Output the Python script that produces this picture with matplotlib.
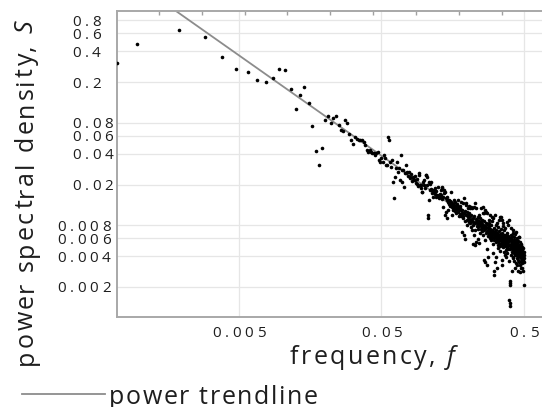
import numpy as np
import matplotlib
matplotlib.use("Agg")
import matplotlib.pyplot as plt
from matplotlib import font_manager
from matplotlib.ft2font import FT2Font
from matplotlib.lines import Line2D
from matplotlib.ticker import FixedLocator, NullLocator

# periodogram: low frequencies point by point
freq_low = [0.0007, 0.00096, 0.0019, 0.0029, 0.0038, 0.0048, 0.0058, 0.0067, 0.0077, 0.0086,
            0.0096, 0.0106, 0.0115, 0.0125, 0.0134, 0.0144, 0.0154, 0.0163, 0.0173, 0.0182,
            0.0192, 0.0202, 0.0211, 0.0221, 0.0230, 0.0240, 0.0250, 0.0259, 0.0269, 0.0278,
            0.0288, 0.0298, 0.0307, 0.0317, 0.0326, 0.0336, 0.0346, 0.0355, 0.0365, 0.0374,
            0.0384, 0.0394, 0.0403, 0.0413, 0.0422, 0.0432, 0.0442, 0.0451, 0.0461, 0.0470,
            0.0480, 0.0490, 0.0499, 0.0509, 0.0518, 0.0528, 0.0538, 0.0547, 0.0557, 0.0566,
            0.0576, 0.0586, 0.0595, 0.0605, 0.0614, 0.0624, 0.0634, 0.0643, 0.0653, 0.0662,
            0.0672, 0.0682, 0.0691, 0.0701, 0.0710, 0.0720, 0.0730, 0.0739, 0.0749, 0.0758,
            0.0768, 0.0778, 0.0787, 0.0797, 0.0806, 0.0816, 0.0826, 0.0835, 0.0845, 0.0854,
            0.0864, 0.0874, 0.0883, 0.0893, 0.0902, 0.0912, 0.0922, 0.0931, 0.0941, 0.0950,
            0.0960]
psd_low = [0.31, 0.47, 0.65, 0.55, 0.35, 0.27, 0.25, 0.21, 0.20, 0.22,
           0.27, 0.26, 0.17, 0.11, 0.15, 0.18, 0.125, 0.074, 0.043, 0.031,
           0.046, 0.086, 0.094, 0.080, 0.090, 0.093, 0.076, 0.068, 0.067, 0.085,
           0.080, 0.063, 0.054, 0.050, 0.058, 0.056, 0.055, 0.054, 0.055, 0.052,
           0.0486, 0.0434, 0.0418, 0.0434, 0.0418, 0.0403, 0.041, 0.0388, 0.0403, 0.0418,
           0.035, 0.0334, 0.036, 0.0334, 0.039, 0.036, 0.031, 0.031, 0.0585, 0.055,
           0.0334, 0.0299, 0.0347, 0.0213, 0.0147, 0.0238, 0.0288, 0.033, 0.0267, 0.0288,
           0.0221, 0.0388, 0.0277, 0.021, 0.0277, 0.019, 0.026, 0.031, 0.0257, 0.0265,
           0.024, 0.0267, 0.0238, 0.023, 0.0255, 0.0215, 0.0238, 0.023, 0.0221, 0.024,
           0.0221, 0.0208, 0.0225, 0.0204, 0.0195, 0.0248, 0.0257, 0.0198, 0.0198, 0.0184,
           0.017]

# dense part of the cloud (estimated, one value per frequency)
freq_high = [0.097, 0.098, 0.099, 0.100, 0.101, 0.102, 0.103, 0.104, 0.105, 0.106,
             0.107, 0.108, 0.109, 0.110, 0.111, 0.112, 0.113, 0.114, 0.115, 0.116,
             0.117, 0.118, 0.119, 0.120, 0.121, 0.122, 0.123, 0.124, 0.125, 0.126,
             0.127, 0.128, 0.129, 0.130, 0.131, 0.132, 0.133, 0.134, 0.135, 0.136,
             0.137, 0.138, 0.139, 0.140, 0.141, 0.142, 0.143, 0.144, 0.145, 0.146,
             0.147, 0.148, 0.149, 0.150, 0.151, 0.152, 0.153, 0.154, 0.155, 0.156,
             0.157, 0.158, 0.159, 0.160, 0.161, 0.162, 0.163, 0.164, 0.165, 0.166,
             0.167, 0.168, 0.169, 0.170, 0.171, 0.172, 0.173, 0.174, 0.175, 0.176,
             0.177, 0.178, 0.179, 0.180, 0.181, 0.182, 0.183, 0.184, 0.185, 0.186,
             0.187, 0.188, 0.189, 0.190, 0.191, 0.192, 0.193, 0.194, 0.195, 0.196,
             0.197, 0.198, 0.199, 0.200, 0.201, 0.202, 0.203, 0.204, 0.205, 0.206,
             0.207, 0.208, 0.209, 0.210, 0.211, 0.212, 0.213, 0.214, 0.215, 0.216,
             0.217, 0.218, 0.219, 0.220, 0.221, 0.222, 0.223, 0.224, 0.225, 0.226,
             0.227, 0.228, 0.229, 0.230, 0.231, 0.232, 0.233, 0.234, 0.235, 0.236,
             0.237, 0.238, 0.239, 0.240, 0.241, 0.242, 0.243, 0.244, 0.245, 0.246,
             0.247, 0.248, 0.249, 0.250, 0.251, 0.252, 0.253, 0.254, 0.255, 0.256,
             0.257, 0.258, 0.259, 0.260, 0.261, 0.262, 0.263, 0.264, 0.265, 0.266,
             0.267, 0.268, 0.269, 0.270, 0.271, 0.272, 0.273, 0.274, 0.275, 0.276,
             0.277, 0.278, 0.279, 0.280, 0.281, 0.282, 0.283, 0.284, 0.285, 0.286,
             0.287, 0.288, 0.289, 0.290, 0.291, 0.292, 0.293, 0.294, 0.295, 0.296,
             0.297, 0.298, 0.299, 0.300, 0.301, 0.302, 0.303, 0.304, 0.305, 0.306,
             0.307, 0.308, 0.309, 0.310, 0.311, 0.312, 0.313, 0.314, 0.315, 0.316,
             0.317, 0.318, 0.319, 0.320, 0.321, 0.322, 0.323, 0.324, 0.325, 0.326,
             0.327, 0.328, 0.329, 0.330, 0.331, 0.332, 0.333, 0.334, 0.335, 0.336,
             0.337, 0.338, 0.339, 0.340, 0.341, 0.342, 0.343, 0.344, 0.345, 0.346,
             0.347, 0.348, 0.349, 0.350, 0.351, 0.352, 0.353, 0.354, 0.355, 0.356,
             0.357, 0.358, 0.359, 0.360, 0.361, 0.362, 0.363, 0.364, 0.365, 0.366,
             0.367, 0.368, 0.369, 0.370, 0.371, 0.372, 0.373, 0.374, 0.375, 0.376,
             0.377, 0.378, 0.379, 0.380, 0.381, 0.382, 0.383, 0.384, 0.385, 0.386,
             0.387, 0.388, 0.389, 0.390, 0.391, 0.392, 0.393, 0.394, 0.395, 0.396,
             0.397, 0.398, 0.399, 0.400, 0.401, 0.402, 0.403, 0.404, 0.405, 0.406,
             0.407, 0.408, 0.409, 0.410, 0.411, 0.412, 0.413, 0.414, 0.415, 0.416,
             0.417, 0.418, 0.419, 0.420, 0.421, 0.422, 0.423, 0.424, 0.425, 0.426,
             0.427, 0.428, 0.429, 0.430, 0.431, 0.432, 0.433, 0.434, 0.435, 0.436,
             0.437, 0.438, 0.439, 0.440, 0.441, 0.442, 0.443, 0.444, 0.445, 0.446,
             0.447, 0.448, 0.449, 0.450, 0.451, 0.452, 0.453, 0.454, 0.455, 0.456,
             0.457, 0.458, 0.459, 0.460, 0.461, 0.462, 0.463, 0.464, 0.465, 0.466,
             0.467, 0.468, 0.469, 0.470, 0.471, 0.472, 0.473, 0.474, 0.475, 0.476,
             0.477, 0.478, 0.479, 0.480, 0.481, 0.482, 0.483, 0.484, 0.485, 0.486,
             0.487, 0.488, 0.489, 0.490, 0.491, 0.492, 0.493, 0.494, 0.495, 0.496,
             0.497, 0.498, 0.499, 0.500, 0.1065]
psd_high = [0.017, 0.021, 0.0198, 0.022, 0.0185, 0.0248, 0.025, 0.0238, 0.0198, 0.0101,
            0.0211, 0.0141, 0.0205, 0.0177, 0.0183, 0.021, 0.0165, 0.0177, 0.0152, 0.0177,
            0.0170, 0.0163, 0.0187, 0.0175, 0.0150, 0.0154, 0.0160, 0.0154, 0.0188, 0.0158,
            0.0147, 0.0163, 0.0152, 0.0178, 0.0158, 0.0145, 0.0184, 0.0190, 0.0152, 0.0122,
            0.0177, 0.0164, 0.0101, 0.0170, 0.0147, 0.0109, 0.0094, 0.0141, 0.0150, 0.0136,
            0.0113, 0.0140, 0.0128, 0.0131, 0.0125, 0.0138, 0.0170, 0.0136, 0.0101, 0.0122,
            0.0129, 0.0113, 0.0126, 0.0118, 0.0140, 0.0131, 0.0110, 0.0124, 0.0135, 0.0105,
            0.0122, 0.0116, 0.0130, 0.0126, 0.0108, 0.0141, 0.0112, 0.0120, 0.0098, 0.0115,
            0.0124, 0.0117, 0.0104, 0.0112, 0.0099, 0.0136, 0.0105, 0.0069, 0.0113, 0.0098,
            0.0131, 0.0094, 0.0064, 0.0147, 0.0106, 0.0059, 0.0110, 0.0088, 0.0126, 0.0100,
            0.0131, 0.0090, 0.0108, 0.0081, 0.0117, 0.0096, 0.0102, 0.0125, 0.0092, 0.0087,
            0.0106, 0.0119, 0.0084, 0.0098, 0.0122, 0.0089, 0.0077, 0.0101, 0.0093, 0.0072,
            0.0117, 0.0087, 0.0053, 0.0094, 0.0081, 0.0122, 0.0064, 0.0098, 0.0085, 0.0051,
            0.0131, 0.0072, 0.0087, 0.0055, 0.0093, 0.0117, 0.0079, 0.0086, 0.0090, 0.0059,
            0.0096, 0.0074, 0.0083, 0.0100, 0.0078, 0.0054, 0.0089, 0.0081, 0.0068, 0.0084,
            0.0095, 0.0073, 0.0087, 0.0080, 0.0117, 0.0077, 0.0070, 0.0090, 0.0083, 0.0064,
            0.0105, 0.0081, 0.0122, 0.0075, 0.0088, 0.0037, 0.0105, 0.0072, 0.0113, 0.0058,
            0.0079, 0.0035, 0.0085, 0.0109, 0.0075, 0.0068, 0.0047, 0.0082, 0.0071, 0.0033,
            0.0105, 0.0069, 0.0077, 0.0039, 0.0063, 0.0084, 0.0073, 0.0066, 0.0078, 0.0091,
            0.0060, 0.0070, 0.0101, 0.0064, 0.0074, 0.0062, 0.0081, 0.0068, 0.0057, 0.0072,
            0.0088, 0.0065, 0.0060, 0.0097, 0.0067, 0.0094, 0.0053, 0.0071, 0.0043, 0.0062,
            0.0029, 0.0075, 0.0058, 0.0026, 0.0069, 0.0063, 0.0101, 0.0035, 0.0066, 0.0080,
            0.0055, 0.0060, 0.0072, 0.0039, 0.0064, 0.0031, 0.0085, 0.0058, 0.0068, 0.0052,
            0.0062, 0.0077, 0.0056, 0.0065, 0.0048, 0.0060, 0.0090, 0.0054, 0.0070, 0.0061,
            0.0045, 0.0066, 0.0097, 0.0057, 0.0063, 0.0050, 0.0074, 0.0059, 0.0097, 0.0053,
            0.0064, 0.0090, 0.0037, 0.0055, 0.0061, 0.0033, 0.0068, 0.0052, 0.0058, 0.0079,
            0.0084, 0.0049, 0.0056, 0.0065, 0.0044, 0.0060, 0.0053, 0.0072, 0.0057, 0.0041,
            0.0062, 0.0054, 0.0076, 0.0050, 0.0059, 0.0046, 0.0065, 0.0055, 0.0039, 0.0061,
            0.0087, 0.0052, 0.0057, 0.0048, 0.0068, 0.0053, 0.0043, 0.0058, 0.0063, 0.0050,
            0.0081, 0.0055, 0.0047, 0.0060, 0.0052, 0.0036, 0.0056, 0.0015, 0.0090, 0.0014,
            0.0023, 0.0021, 0.0022, 0.0013, 0.0058, 0.0047, 0.0064, 0.0053, 0.0041, 0.0060,
            0.0049, 0.0075, 0.0055, 0.0029, 0.0051, 0.0063, 0.0044, 0.0057, 0.0048, 0.0068,
            0.0038, 0.0053, 0.0046, 0.0072, 0.0050, 0.0039, 0.0058, 0.0043, 0.0055, 0.0047,
            0.0062, 0.0036, 0.0051, 0.0031, 0.0056, 0.0045, 0.0066, 0.0049, 0.0041, 0.0053,
            0.0058, 0.0034, 0.0047, 0.0069, 0.0044, 0.0052, 0.0038, 0.0049, 0.0060, 0.0044,
            0.0041, 0.0054, 0.0033, 0.0047, 0.0050, 0.0037, 0.0056, 0.0043, 0.0029, 0.0048,
            0.0040, 0.0061, 0.0045, 0.0035, 0.0052, 0.0042, 0.0047, 0.0061, 0.0039, 0.0044,
            0.0033, 0.0049, 0.0055, 0.0028, 0.0046, 0.0041, 0.0051, 0.0036, 0.0044, 0.0053,
            0.0040, 0.0031, 0.0047, 0.0038, 0.0043, 0.0031, 0.0049, 0.0035, 0.0042, 0.0039,
            0.0046, 0.0034, 0.0044, 0.0037, 0.0041, 0.0048, 0.0036, 0.0043, 0.0029, 0.0044,
            0.0038, 0.0041, 0.0035, 0.0021, 0.0094]

# power trendline S = a * f**b
trend_a = 0.00203
trend_b = -0.98

x_ticks = [0.005, 0.05, 0.5]
x_tick_labels = ["0.005", "0.05", "0.5"]
y_ticks = [0.8, 0.6, 0.4, 0.2, 0.08, 0.06, 0.04, 0.02, 0.008, 0.006, 0.004, 0.002]
y_tick_labels = ["0.8", "0.6", "0.4", "0.2", "0.08", "0.06", "0.04", "0.02",
                 "0.008", "0.006", "0.004", "0.002"]
top_ticks = [0.00137, 0.00273, 0.00547, 0.0109, 0.0219, 0.0438, 0.0875, 0.175, 0.35]

W, H, DPI = 542, 407, 100
FONT = "Open Sans"
INK = "#1e1e1e"
GREY = "#8c8c8c"


def advances(s, size, style="normal"):
    path = font_manager.findfont(font_manager.FontProperties(family=FONT, style=style))
    ft = FT2Font(path, hinting_factor=1)
    ft.set_size(size, DPI)
    return [ft.load_char(ord(c)).linearHoriAdvance / 65536 for c in s]


def spaced(fig, x, y, s, size, track, style="normal", rotation=0, color=INK):
    # no letter-spacing in matplotlib, so place the characters one at a time
    for c, adv in zip(s, advances(s, size, style)):
        fig.text(x / W, y / H, c, fontsize=size, family=FONT, style=style, color=color,
                 rotation=rotation, rotation_mode="anchor", ha="left", va="baseline")
        if rotation == 90:
            y += adv + track
        else:
            x += adv + track
    return x, y


def spaced_width(s, size, track):
    return sum(advances(s, size)) + track * (len(s) - 1)


fig = plt.figure(figsize=(W / DPI, H / DPI), dpi=DPI)
ax = fig.add_axes([117 / W, 90 / H, 428 / W, 306 / H])
ax.set_xscale("log")
ax.set_yscale("log")
ax.set_xlim(0.000697, 0.702)
ax.set_ylim(0.00102, 0.99)

freq = np.array(freq_low + freq_high)
psd = np.array(psd_low + psd_high)
ax.plot(freq, psd, "o", ms=2.6, color="black", mec="none", zorder=3)

f_line = np.array([freq.min(), freq.max()])
ax.plot(f_line, trend_a * f_line ** trend_b, color=GREY, lw=1.3, zorder=2)

ax.xaxis.set_major_locator(FixedLocator(x_ticks))
ax.yaxis.set_major_locator(FixedLocator(y_ticks))
ax.xaxis.set_minor_locator(FixedLocator(top_ticks))
ax.yaxis.set_minor_locator(NullLocator())
ax.tick_params(which="both", labelbottom=False, labelleft=False, labeltop=False)
ax.tick_params(which="major", length=0)
ax.tick_params(which="minor", bottom=False, top=True, direction="in",
               length=3, width=1, color="#a0a0a0")
ax.grid(True, which="major", color="#e6e6e6", lw=0.9)
ax.set_axisbelow(True)
for side in ax.spines:
    ax.spines[side].set_color("#a8a8a8")
    ax.spines[side].set_linewidth(1.4)

# tick labels
TICK_SIZE, TICK_TRACK = 11, 3.8
digit_h = 0.714 * TICK_SIZE * DPI / 72
for v, lab in zip(y_ticks, y_tick_labels):
    yc = ax.transData.transform((0.001, v))[1]
    x0 = 72 if v >= 0.01 else 57
    spaced(fig, x0, yc - digit_h / 2, lab, TICK_SIZE, TICK_TRACK)
for v, lab in zip(x_ticks, x_tick_labels):
    xc = ax.transData.transform((v, 0.01))[0]
    w = spaced_width(lab, TICK_SIZE, TICK_TRACK)
    spaced(fig, xc - w / 2, 70, lab, TICK_SIZE, TICK_TRACK)

# axis labels
LABEL_SIZE = 18
x, y = spaced(fig, 290, 43, "frequency, ", LABEL_SIZE, 2.4)
spaced(fig, x, y, "f", LABEL_SIZE, 2.4, style="italic")
x, y = spaced(fig, 33, 42, "power spectral density, ", LABEL_SIZE, 2.3, rotation=90)
spaced(fig, x, y, "S", LABEL_SIZE, 2.3, style="italic", rotation=90)

# legend below the plot
fig.add_artist(Line2D([22 / W, 105 / W], [13 / H, 13 / H], transform=fig.transFigure,
                      color=GREY, lw=1.3))
spaced(fig, 109, 3, "power trendline", LABEL_SIZE, 1.6)

fig.savefig("out.png", dpi=DPI)
